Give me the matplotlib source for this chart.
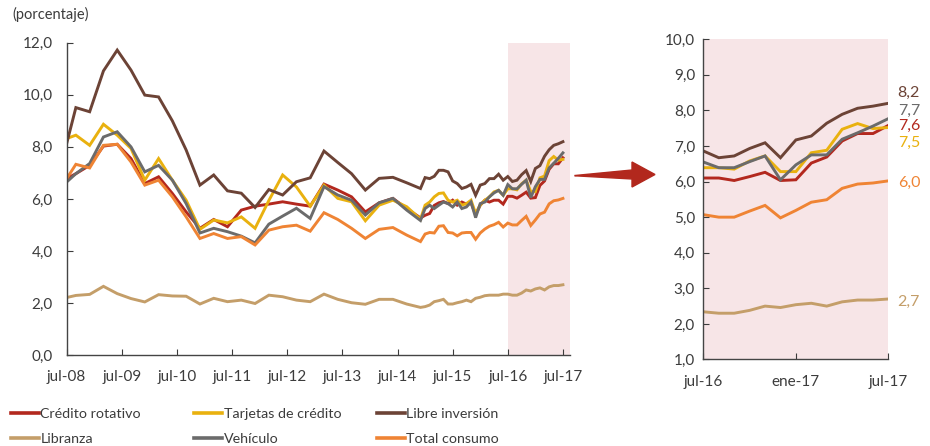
import matplotlib
matplotlib.use("Agg")
import matplotlib.pyplot as plt
from matplotlib.lines import Line2D
from matplotlib.patches import Polygon
from matplotlib.ticker import FuncFormatter, FixedLocator

plt.rcParams['font.family'] = ['Lato', 'DejaVu Sans']

# meses desde jul-08: trimestral hasta dic-14, mensual después
meses = [0, 2, 5, 8, 11, 14, 17, 20, 23, 26, 29, 32, 35, 38, 41, 44, 47, 50,
         53, 56, 59, 62, 65, 68, 71, 74, 77,
         78, 79, 80, 81, 82, 83, 84, 85, 86, 87, 88, 89, 90, 91, 92, 93, 94, 95,
         96, 97, 98, 99, 100, 101, 102, 103, 104, 105, 106, 107, 108]

credito_rotativo = [6.78, 6.97, 7.29, 8.03, 8.10, 7.55, 6.59, 6.85, 6.21, 5.50,
                    4.87, 5.21, 4.93, 5.57, 5.72, 5.80, 5.89, 5.80,
                    5.72, 6.57, 6.34, 6.08, 5.50, 5.85, 6.02, 5.63, 5.27,
                    5.37, 5.44, 5.75, 5.85, 5.90, 5.82, 5.95, 5.76, 5.88, 5.80, 5.85, 5.40,
                    5.76, 5.95, 5.88, 5.95, 5.95, 5.80,
                    6.10, 6.10, 6.03, 6.14, 6.26, 6.03, 6.05, 6.52, 6.69, 7.14, 7.35, 7.35, 7.58]
tarjetas = [8.32, 8.45, 8.06, 8.87, 8.45, 7.94, 6.72, 7.55, 6.72, 5.95,
            4.83, 5.19, 5.08, 5.31, 4.87, 5.94, 6.92, 6.46,
            5.72, 6.53, 6.02, 5.89, 5.16, 5.76, 5.95, 5.70, 5.22,
            5.76, 5.88, 6.08, 6.21, 6.23, 5.95, 5.88, 5.95, 5.76, 5.82, 5.95, 5.44,
            5.76, 5.95, 6.08, 6.27, 6.33, 6.14,
            6.39, 6.39, 6.35, 6.58, 6.72, 6.28, 6.28, 6.81, 6.88, 7.47, 7.63, 7.49, 7.52]
libre_inversion = [8.13, 9.51, 9.35, 10.92, 11.72, 10.95, 9.99, 9.92, 9.00, 7.88,
                   6.53, 6.92, 6.31, 6.22, 5.67, 6.36, 6.15, 6.66,
                   6.81, 7.84, 7.40, 6.97, 6.34, 6.79, 6.83, 6.62, 6.40,
                   6.82, 6.78, 6.87, 7.10, 7.10, 7.04, 6.69, 6.59, 6.40, 6.46, 6.56, 6.14,
                   6.53, 6.59, 6.78, 6.78, 6.95, 6.72,
                   6.86, 6.67, 6.72, 6.93, 7.09, 6.67, 7.17, 7.28, 7.64, 7.89, 8.06, 8.12, 8.20]
libranza = [2.21, 2.29, 2.33, 2.64, 2.36, 2.17, 2.04, 2.32, 2.27, 2.26,
            1.96, 2.18, 2.05, 2.11, 1.98, 2.30, 2.24, 2.11,
            2.05, 2.34, 2.14, 2.01, 1.95, 2.14, 2.14, 1.96, 1.83,
            1.86, 1.92, 2.05, 2.09, 2.14, 1.96, 1.96, 2.01, 2.05, 2.11, 2.05, 2.18,
            2.22, 2.28, 2.30, 2.30, 2.30, 2.34,
            2.34, 2.30, 2.30, 2.38, 2.50, 2.46, 2.54, 2.58, 2.50, 2.62, 2.67, 2.67, 2.70]
vehiculo = [6.65, 6.97, 7.36, 8.38, 8.58, 8.00, 7.04, 7.29, 6.72, 5.82,
            4.69, 4.87, 4.74, 4.57, 4.31, 5.03, 5.34, 5.64,
            5.25, 6.47, 6.15, 5.95, 5.38, 5.85, 6.02, 5.57, 5.17,
            5.63, 5.76, 5.63, 5.76, 5.88, 5.82, 5.69, 5.88, 5.63, 5.69, 5.88, 5.28,
            5.82, 5.88, 6.08, 6.23, 6.33, 6.14,
            6.55, 6.39, 6.39, 6.56, 6.72, 6.05, 6.47, 6.75, 6.75, 7.19, 7.37, 7.56, 7.77]
total_consumo = [6.78, 7.33, 7.19, 8.06, 8.10, 7.42, 6.53, 6.72, 6.08, 5.31,
                 4.48, 4.67, 4.48, 4.55, 4.23, 4.80, 4.93, 4.99,
                 4.76, 5.47, 5.21, 4.87, 4.48, 4.83, 4.90, 4.61, 4.36,
                 4.65, 4.71, 4.69, 4.95, 4.97, 4.71, 4.69, 4.58, 4.69, 4.71, 4.71, 4.45,
                 4.69, 4.84, 4.95, 5.01, 5.10, 4.92,
                 5.07, 5.00, 5.00, 5.17, 5.33, 4.98, 5.19, 5.42, 5.49, 5.81, 5.93, 5.96, 6.02]

etiquetas_anual = ['jul-08', 'jul-09', 'jul-10', 'jul-11', 'jul-12',
                   'jul-13', 'jul-14', 'jul-15', 'jul-16', 'jul-17']
etiquetas_zoom = ['jul-16', 'ene-17', 'jul-17']
valores_finales = ['8,2', '7,7', '7,6', '7,5', '6,0', '2,7']

series = [
    ('Crédito rotativo', credito_rotativo, '#b3281e'),
    ('Tarjetas de crédito', tarjetas, '#e9b10f'),
    ('Libre inversión', libre_inversion, '#6c4336'),
    ('Libranza', libranza, '#c49e69'),
    ('Vehículo', vehiculo, '#6b6b6b'),
    ('Total consumo', total_consumo, '#ef8434'),
]
rosa = '#f7e5e7'
gris_txt = '#3c3c3c'
coma = FuncFormatter(lambda v, p: f"{v:.1f}".replace('.', ','))

fig = plt.figure(figsize=(9.3, 4.46), dpi=100)
ax1 = fig.add_axes([0.0717, 0.204, 0.541, 0.700])
ax2 = fig.add_axes([0.7563, 0.194, 0.199, 0.718])

# panel izquierdo: serie completa
ax1.axvspan(96, 109.5, color=rosa, lw=0, zorder=0)
for nombre, valores, color in series:
    ax1.plot(meses, valores, color=color, lw=2.1, label=nombre,
             solid_joinstyle='miter', zorder=2)
ax1.set_xlim(0, 109.5)
ax1.set_ylim(0, 12)
ax1.yaxis.set_major_locator(FixedLocator([0, 2, 4, 6, 8, 10, 12]))
ax1.xaxis.set_major_locator(FixedLocator(list(range(0, 109, 12))))
ax1.set_xticklabels(etiquetas_anual)
ax1.yaxis.set_major_formatter(coma)
ax1.tick_params(axis='y', direction='in', length=4, pad=10, labelsize=11, colors=gris_txt)
ax1.tick_params(axis='x', direction='in', length=4, pad=11, labelsize=11, colors=gris_txt)

# panel derecho: último año
k = meses.index(96)
x2 = [m - 96 for m in meses[k:]]
ax2.set_facecolor(rosa)
for nombre, valores, color in series:
    ax2.plot(x2, valores[k:], color=color, lw=2.1, solid_joinstyle='miter')
ax2.set_xlim(0, 12)
ax2.set_ylim(1, 10)
ax2.yaxis.set_major_locator(FixedLocator(list(range(1, 11))))
ax2.xaxis.set_major_locator(FixedLocator([0, 6, 12]))
ax2.set_xticklabels(etiquetas_zoom)
ax2.yaxis.set_major_formatter(coma)
ax2.tick_params(axis='y', direction='in', length=4, pad=6, labelsize=11, colors=gris_txt)
ax2.tick_params(axis='x', direction='in', length=4, pad=11, labelsize=11, colors=gris_txt)

# etiquetas del último dato
orden = [2, 4, 0, 1, 5, 3]
posiciones_y = [8.48, 8.0, 7.56, 7.10, 5.97, 2.61]
for idx, yy, txt in zip(orden, posiciones_y, valores_finales):
    ax2.text(12.6, yy, txt, color=series[idx][2], fontsize=11.5, va='center', ha='left',
             clip_on=False)

for ax in (ax1, ax2):
    for s in ('top', 'right'):
        ax.spines[s].set_visible(False)
    for s in ('left', 'bottom'):
        ax.spines[s].set_color('#444444')
        ax.spines[s].set_linewidth(1.0)

fig.text(0.013, 0.968, '(porcentaje)', fontsize=10.5, color=gris_txt, va='center', ha='left')

# flecha entre paneles
flecha = Polygon([(575, 175.5), (632, 170), (632, 162), (655, 174.5),
                  (632, 187), (632, 179), (575, 175.8)],
                 closed=True, color='#b2281d', transform=None)
flecha.set_xy([(x, 446 - y) for x, y in flecha.get_xy()])
fig.patches.append(flecha)

# leyenda en tres columnas
handles = [Line2D([], [], color=c, lw=2.6) for _, _, c in series]
nombres = [n for n, _, _ in series]
columnas = [(0, 3), (1, 4), (2, 5)]
x_col = [0.012, 0.209, 0.405]
for (a, b), xc in zip(columnas, x_col):
    fig.legend([handles[a], handles[b]], [nombres[a], nombres[b]],
               loc='upper left', bbox_to_anchor=(xc, 0.086), frameon=False,
               fontsize=10.3, handlelength=1.95, handletextpad=0.1,
               borderpad=0, borderaxespad=0, labelspacing=0.9, labelcolor=gris_txt)

fig.savefig('out.png', dpi=100)
